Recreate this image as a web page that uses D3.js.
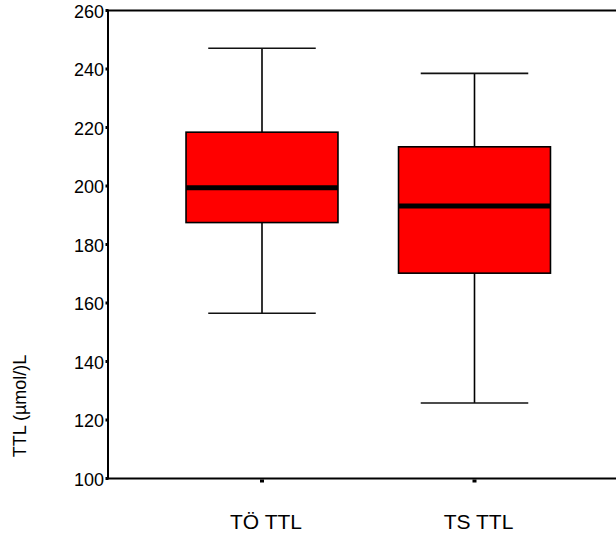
<!DOCTYPE html>
<html>
<head>
<meta charset="utf-8">
<script src="https://cdn.jsdelivr.net/npm/d3@7"></script>
<style>
  body { margin: 0; background: #fff; overflow: hidden; }
  svg { display: block; }
  text { font-family: "Liberation Sans", Arial, sans-serif; fill: #000; }
</style>
</head>
<body>
<div id="grafico"></div>
<script>
// datos
var categorias = ["TÖ TTL", "TS TTL"];
var bigoteSup = [247.1, 238.5];
var cuartil3 = [218.4, 213.4];
var medianas = [199.4, 193.2];
var cuartil1 = [187.5, 170.2];
var bigoteInf = [156.5, 125.8];
var ticksY = [100, 120, 140, 160, 180, 200, 220, 240, 260];

var ancho = 616, alto = 536;

var svg = d3.select("#grafico").append("svg")
    .attr("width", ancho)
    .attr("height", alto);

var y = d3.scaleLinear().domain([100, 260]).range([478.5, 10.5]);
var x = d3.scaleBand().domain(categorias).range([155.75, 580.75]);

var cajas = categorias.map(function (c, i) {
    return { cat: c, max: bigoteSup[i], q3: cuartil3[i], med: medianas[i], q1: cuartil1[i], min: bigoteInf[i] };
});

var anchoCaja = x.bandwidth() * 0.715;
var anchoTope = x.bandwidth() * 0.506;

var g = svg.selectAll(".caja")
    .data(cajas)
    .enter().append("g")
    .attr("class", "caja")
    .attr("transform", function (d) {
        return "translate(" + (x(d.cat) + x.bandwidth() / 2) + ",0)";
    });

// bigote vertical
g.append("line")
    .attr("x1", 0).attr("x2", 0)
    .attr("y1", function (d) { return y(d.max); })
    .attr("y2", function (d) { return y(d.min); })
    .style("stroke", "#000")
    .style("stroke-width", 1.6);

// topes
g.append("line")
    .attr("x1", -anchoTope / 2).attr("x2", anchoTope / 2)
    .attr("y1", function (d) { return y(d.max); })
    .attr("y2", function (d) { return y(d.max); })
    .style("stroke", "#111")
    .style("stroke-width", 1.6);
g.append("line")
    .attr("x1", -anchoTope / 2).attr("x2", anchoTope / 2)
    .attr("y1", function (d) { return y(d.min); })
    .attr("y2", function (d) { return y(d.min); })
    .style("stroke", "#111")
    .style("stroke-width", 1.6);

// caja
g.append("rect")
    .attr("x", -anchoCaja / 2)
    .attr("width", anchoCaja)
    .attr("y", function (d) { return y(d.q3); })
    .attr("height", function (d) { return y(d.q1) - y(d.q3); })
    .style("fill", "#ff0000")
    .style("stroke", "#000")
    .style("stroke-width", 1.6);

// mediana
g.append("line")
    .attr("x1", -anchoCaja / 2).attr("x2", anchoCaja / 2)
    .attr("y1", function (d) { return y(d.med); })
    .attr("y2", function (d) { return y(d.med); })
    .style("stroke", "#000")
    .style("stroke-width", 5);

// ejes
var ejeY = d3.axisLeft(y).tickValues(ticksY).tickSize(0).tickPadding(4);
var gy = svg.append("g")
    .attr("transform", "translate(108,0)")
    .call(ejeY);
gy.select(".domain").remove();
gy.selectAll("text").style("font-size", "18px").attr("dy", "0.38em");

// marcas cuadradas del eje Y
svg.selectAll(".marcaY")
    .data(ticksY)
    .enter().append("rect")
    .attr("x", 105.5)
    .attr("y", function (d) { return y(d) - 1.5; })
    .attr("width", 3)
    .attr("height", 3)
    .style("fill", "#000");

var ejeX = d3.axisBottom(x).tickSize(0).tickPadding(0);
var gx = svg.append("g")
    .attr("transform", "translate(0," + y(100) + ")")
    .call(ejeX);
gx.select(".domain").remove();
gx.selectAll("text")
    .style("font-size", "21px")
    .attr("dx", 4)
    .attr("y", 50)
    .attr("dy", 0);

svg.selectAll(".marcaX")
    .data(categorias)
    .enter().append("rect")
    .attr("x", function (d) { return x(d) + x.bandwidth() / 2 - 2; })
    .attr("y", y(100) + 1)
    .attr("width", 4)
    .attr("height", 3)
    .style("fill", "#000");

// marco: izquierda, abajo, arriba
svg.append("line")
    .attr("x1", 108).attr("x2", 108)
    .attr("y1", y(260)).attr("y2", y(100))
    .style("stroke", "#000").style("stroke-width", 2);
svg.append("line")
    .attr("x1", 107).attr("x2", ancho)
    .attr("y1", y(100)).attr("y2", y(100))
    .style("stroke", "#000").style("stroke-width", 2);
svg.append("line")
    .attr("x1", 107).attr("x2", ancho)
    .attr("y1", y(260)).attr("y2", y(260))
    .style("stroke", "#000").style("stroke-width", 2);

// titulo eje Y
svg.append("text")
    .attr("transform", "translate(26,406) rotate(-90)")
    .attr("text-anchor", "middle")
    .style("font-size", "18px")
    .text("TTL (µmol/)L");
</script>
</body>
</html>
